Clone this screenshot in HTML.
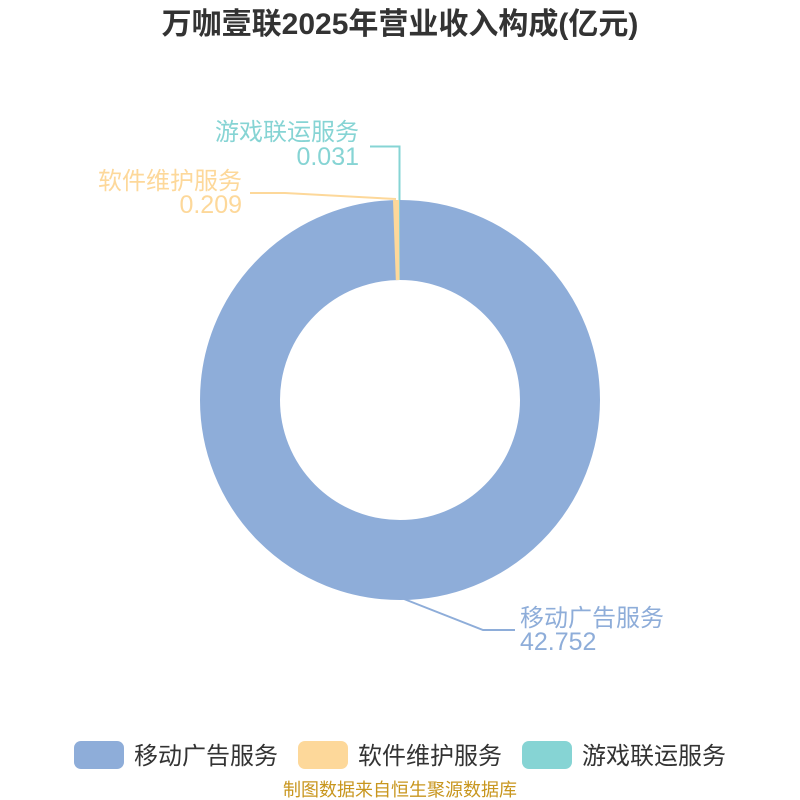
<!DOCTYPE html>
<html><head><meta charset="utf-8"><style>
html,body{margin:0;padding:0;background:#fff;}
svg{display:block;font-family:"Liberation Sans","Noto Sans CJK SC",sans-serif;}
</style></head><body>
<svg width="800" height="800" viewBox="0 0 800 800" xmlns="http://www.w3.org/2000/svg">
<text x="400" y="34" text-anchor="middle" font-size="30" font-weight="bold" fill="#333">万咖壹联2025年营业收入构成(亿元)</text>
<circle cx="400" cy="400" r="160" fill="none" stroke="#8eadd9" stroke-width="80"/>
<path d="M393,200.1 A200,200 0 0 1 399.1,200 L399.5,280 A120,120 0 0 0 395.8,280.1 Z" fill="#fdd89a"/>
<path d="M399.1,200 A200,200 0 0 1 400,200 L400,280 A120,120 0 0 0 399.5,280 Z" fill="#86d4d4"/>
<polyline points="370,146.5 399.5,146.5 399.5,200" fill="none" stroke="#86d4d4" stroke-width="2"/>
<polyline points="250,193 285,193 396,199" fill="none" stroke="#fdd89a" stroke-width="2"/>
<polyline points="404,599 483,630 515,630" fill="none" stroke="#8eadd9" stroke-width="2"/>
<g font-size="24">
<text x="359" y="140" text-anchor="end" fill="#86d4d4">游戏联运服务</text>
<text x="359" y="165" text-anchor="end" font-size="25" fill="#86d4d4">0.031</text>
<text x="242" y="189" text-anchor="end" fill="#fdd89a">软件维护服务</text>
<text x="242" y="213" text-anchor="end" font-size="25" fill="#fdd89a">0.209</text>
<text x="520" y="626" fill="#8eadd9">移动广告服务</text>
<text x="520" y="650" font-size="25" fill="#8eadd9">42.752</text>
</g>
<rect x="74" y="741" width="50" height="28" rx="7" fill="#8eadd9"/>
<rect x="298" y="741" width="50" height="28" rx="7" fill="#fdd89a"/>
<rect x="522" y="741" width="50" height="28" rx="7" fill="#86d4d4"/>
<g font-size="24" fill="#333">
<text x="134" y="764">移动广告服务</text>
<text x="358" y="764">软件维护服务</text>
<text x="582" y="764">游戏联运服务</text>
</g>
<text x="400" y="796" text-anchor="middle" font-size="18" fill="#c8961e">制图数据来自恒生聚源数据库</text>
</svg>
</body></html>
